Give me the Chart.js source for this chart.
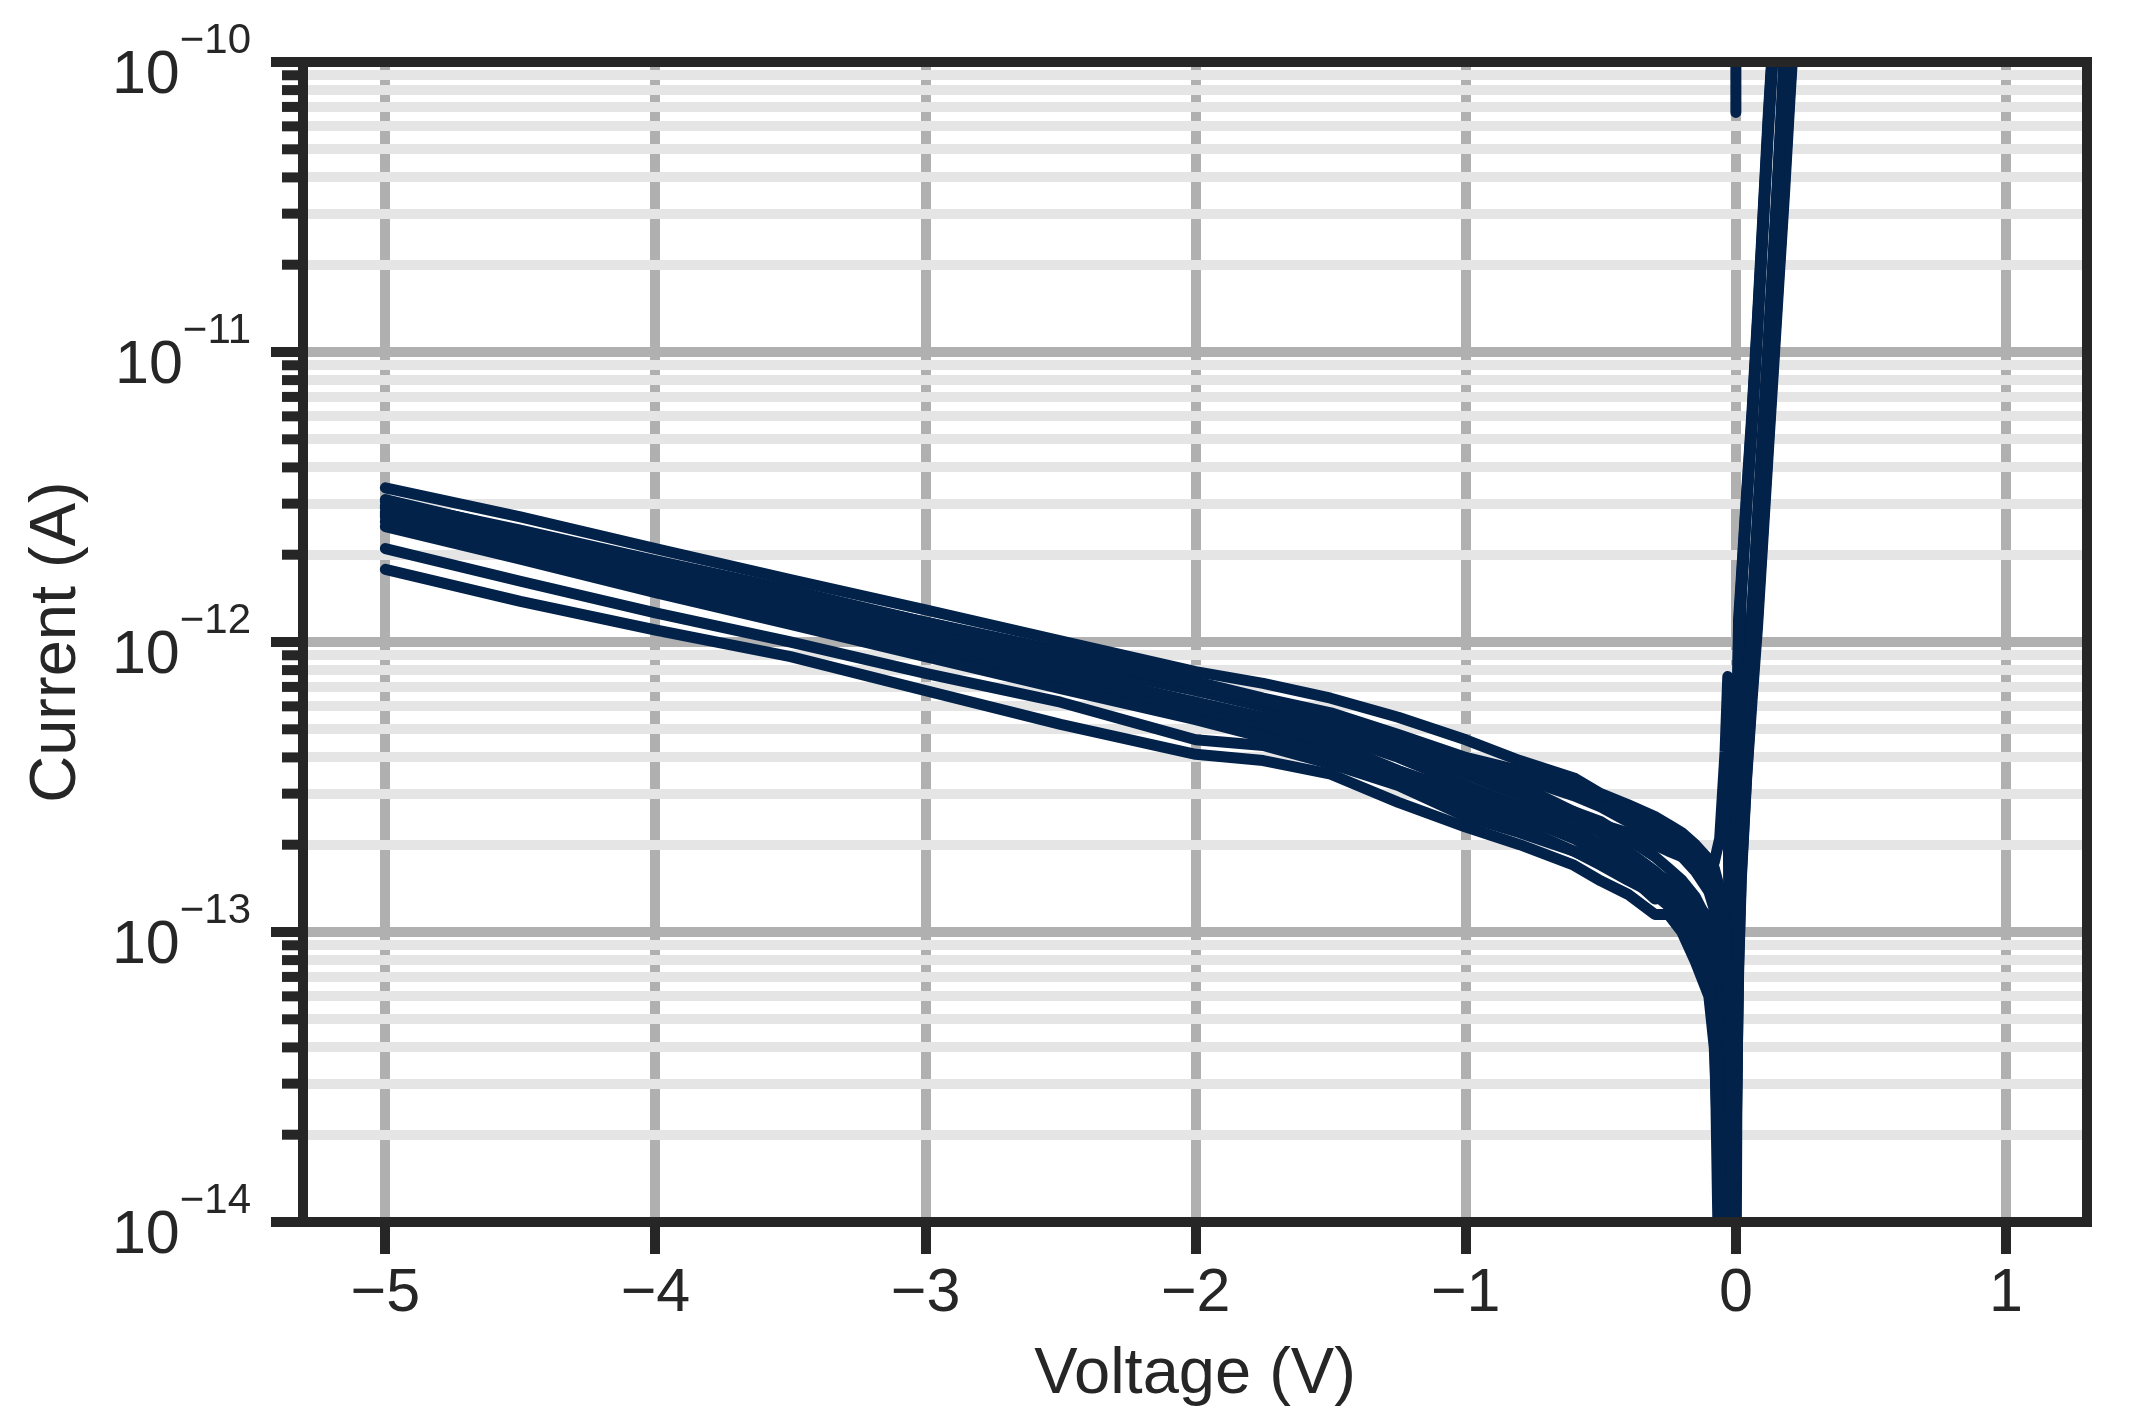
<!DOCTYPE html>
<html>
<head>
<meta charset="utf-8">
<title>Current vs voltage</title>
<script src="https://cdn.jsdelivr.net/npm/chart.js@4.4.1/dist/chart.umd.min.js"></script>
<style>
  html, body { margin: 0; padding: 0; background: #ffffff; }
  #wrap { width: 2131px; height: 1422px; }
</style>
</head>
<body>
<div id="wrap"><canvas id="ivChart" width="2131" height="1422"></canvas></div>
<script>
// sweep voltages (V), shared by all sweeps
const voltage = [
  -5, -4.5, -4, -3.5, -3, -2.5, -2, -1.75, -1.5, -1.25,
  -1, -0.8, -0.6, -0.5, -0.4, -0.3, -0.25, -0.2, -0.15, -0.1,
  -0.08, -0.06, -0.04, -0.03, -0.02, -0.01, 0, 0.01, 0.02, 0.04,
  0.06, 0.08, 0.1, 0.12, 0.14, 0.16, 0.18, 0.2, 0.22
];

// |current| (A) per sweep
const sweep1 = [
  3.4e-12, 2.7e-12, 2.1e-12, 1.64e-12, 1.29e-12, 1.01e-12, 7.9e-13, 7.2e-13, 6.4e-13, 5.5e-13,
  4.6e-13, 3.9e-13, 3.4e-13, 3.0e-13, 2.75e-13, 2.5e-13, 2.35e-13, 2.2e-13, 2.0e-13, 1.78e-13,
  1.66e-13, 1.41e-13, 1.0e-13, 6.3e-14, 3.2e-14, 4e-15, 4.0e-14, 1.26e-13, 2.5e-13, 6.3e-13,
  1.2e-12, 2.5e-12, 5.0e-12, 1.0e-11, 2.1e-11, 4.5e-11, 1.0e-10, 2.0e-10, null
];
const sweep2 = [
  3.1e-12, 2.4e-12, 1.9e-12, 1.48e-12, 1.17e-12, 9.1e-13, 7.1e-13, 6.3e-13, 5.5e-13, 4.7e-13,
  3.9e-13, 3.4e-13, 2.95e-13, 2.7e-13, 2.4e-13, 2.15e-13, 2.0e-13, 1.82e-13, 1.62e-13, 1.38e-13,
  1.2e-13, 1.0e-13, 7.1e-14, 5.0e-14, 2.5e-14, 4e-15, 2.5e-13, 1.12e-12, 1.58e-12, 3.2e-12,
  6.0e-12, 1.26e-11, 2.8e-11, 6.3e-11, 1.26e-10, null, null, null, null
];
const sweep3 = [
  2.95e-12, 2.3e-12, 1.82e-12, 1.45e-12, 1.12e-12, 8.9e-13, 7.1e-13, 6.2e-13, 5.4e-13, 4.5e-13,
  3.6e-13, 3.2e-13, 2.6e-13, 2.4e-13, 2.1e-13, 1.82e-13, 1.66e-13, 1.51e-13, 1.32e-13, 1.07e-13,
  9.3e-14, 7.6e-14, 5.0e-14, 2.8e-14, 4e-15, 8e-15, 2.0e-14, 8.9e-14, 1.78e-13, 4.0e-13,
  7.6e-13, 1.32e-12, 2.5e-12, 5.0e-12, 1.0e-11, 2.0e-11, 4.0e-11, 8.3e-11, 1.66e-10
];
const sweep4 = [
  2.8e-12, 2.2e-12, 1.74e-12, 1.38e-12, 1.1e-12, 8.5e-13, 6.8e-13, 6.0e-13, 5.1e-13, 4.3e-13,
  3.5e-13, 2.95e-13, 2.45e-13, 2.2e-13, 1.9e-13, 1.62e-13, 1.48e-13, 1.32e-13, 1.15e-13, 9.5e-14,
  8.3e-14, 6.6e-14, 4.5e-14, 3.2e-14, 1.6e-14, 4e-15, 2.0e-13, 1.0e-12, 1.5e-12, 3.0e-12,
  5.8e-12, 1.2e-11, 2.7e-11, 6.0e-11, 1.2e-10, null, null, null, null
];
const sweep5 = [
  2.7e-12, 2.1e-12, 1.66e-12, 1.29e-12, 1.02e-12, 7.9e-13, 6.2e-13, 5.5e-13, 4.8e-13, 4.0e-13,
  3.2e-13, 2.7e-13, 2.24e-13, 2.0e-13, 1.74e-13, 1.45e-13, 1.35e-13, 1.2e-13, 1.02e-13, 7.9e-14,
  6.6e-14, 5.0e-14, 2.5e-14, 4e-15, 1.0e-14, 1.78e-14, 4.5e-14, 1.32e-13, 2.6e-13, 6.6e-13,
  1.26e-12, 2.6e-12, 5.2e-12, 1.05e-11, 2.2e-11, 4.7e-11, 1.05e-10, 2.1e-10, null
];
const sweep6 = [
  2.6e-12, 2.0e-12, 1.58e-12, 1.23e-12, 9.8e-13, 7.6e-13, 5.9e-13, 5.2e-13, 4.5e-13, 3.6e-13,
  2.95e-13, 2.5e-13, 2.1e-13, 1.86e-13, 1.62e-13, 1.35e-13, 1.23e-13, 1.1e-13, 8.9e-14, 6.6e-14,
  5.0e-14, 2.8e-14, 4e-15, 8e-15, 1.12e-14, 1.41e-14, 1.78e-14, 7.1e-14, 1.51e-13, 3.4e-13,
  6.3e-13, 1.12e-12, 2.24e-12, 4.5e-12, 8.9e-12, 1.78e-11, 3.5e-11, 7.4e-11, 1.48e-10
];
const sweep7 = [
  2.1e-12, 1.62e-12, 1.26e-12, 1.0e-12, 7.8e-13, 6.2e-13, 4.6e-13, 4.4e-13, 3.8e-13, 3.2e-13,
  2.5e-13, 2.2e-13, 1.9e-13, 1.74e-13, 1.58e-13, 1.3e-13, 1.32e-13, 1.12e-13, 1.0e-13, 7.9e-14,
  6.3e-14, 3.5e-14, 1.26e-14, 4e-15, 6e-15, 1.0e-14, 1.6e-14, 7.9e-14, 1.58e-13, 3.5e-13,
  6.8e-13, 1.2e-12, 2.4e-12, 4.8e-12, 9.5e-12, 1.9e-11, 3.8e-11, 7.9e-11, 1.6e-10
];
const sweep8 = [
  1.78e-12, 1.38e-12, 1.1e-12, 8.9e-13, 6.8e-13, 5.2e-13, 4.1e-13, 3.9e-13, 3.5e-13, 2.8e-13,
  2.3e-13, 2.0e-13, 1.7e-13, 1.5e-13, 1.35e-13, 1.15e-13, 1.15e-13, 1.0e-13, 7.9e-14, 6.0e-14,
  4.0e-14, 1.26e-14, 4e-15, 1.0e-14, 1.6e-14, 2.5e-14, 5.0e-14, 1.3e-13, 2.5e-13, 6.3e-13,
  1.2e-12, 2.4e-12, 4.8e-12, 9.5e-12, 2.0e-11, 4.3e-11, 9.5e-11, 2.0e-10, null
];
const sweep9 = [
  2.9e-12, 2.25e-12, 1.78e-12, 1.41e-12, 1.12e-12, 8.7e-13, 6.9e-13, 6.0e-13, 5.2e-13, 4.4e-13,
  3.55e-13, 3.0e-13, 2.6e-13, 2.35e-13, 2.2e-13, 2.0e-13, 1.9e-13, 1.82e-13, 1.74e-13, 1.66e-13,
  1.74e-13, 2.1e-13, 4.2e-13, 7.6e-13, 4e-15, 3.2e-14, 2.5e-13, 1.2e-12, 1.66e-12, 3.3e-12,
  6.3e-12, 1.32e-11, 2.95e-11, 6.6e-11, 1.32e-10, null, null, null, null
];
const sweep10 = [
  2.5e-12, 1.93e-12, 1.48e-12, 1.15e-12, 8.9e-13, 6.9e-13, 5.4e-13, 4.7e-13, 4.1e-13, 3.4e-13,
  2.72e-13, 2.3e-13, 1.9e-13, 1.7e-13, 1.51e-13, 1.35e-13, 1.26e-13, 1.12e-13, 9.5e-14, 7.6e-14,
  6.0e-14, 4e-15, 1.1e-14, 1.4e-14, 2.0e-14, 3.2e-14, 6.3e-14, 1.58e-13, 3.0e-13, 7.1e-13,
  1.3e-12, 2.7e-12, 5.4e-12, 1.1e-11, 2.3e-11, 4.9e-11, 1.1e-10, null, null
];
const sweep11 = [
  3.05e-12, 2.43e-12, 1.91e-12, 1.51e-12, 1.17e-12, 9.3e-13, 7.3e-13, 6.4e-13, 5.7e-13, 4.8e-13,
  4.0e-13, 3.6e-13, 3.2e-13, 2.9e-13, 2.6e-13, 2.35e-13, 2.2e-13, 2.0e-13, 1.82e-13, 1.58e-13,
  1.45e-13, 1.2e-13, 8.9e-14, 6.3e-14, 3.5e-14, 1.26e-14, 4e-15, 6.3e-13, 1.41e-12, 2.9e-12,
  5.5e-12, 1.15e-11, 2.5e-11, 5.6e-11, 1.12e-10, null, null, null, null
];
const sweep12 = [
  2.75e-12, 2.1e-12, 1.62e-12, 1.25e-12, 9.5e-13, 7.3e-13, 5.6e-13, 5.0e-13, 4.4e-13, 3.6e-13,
  3.0e-13, 2.6e-13, 2.2e-13, 1.9e-13, 1.74e-13, 1.58e-13, 1.51e-13, 1.41e-13, 1.26e-13, 1.12e-13,
  1.0e-13, 8.3e-14, 6.3e-14, 5.0e-14, 3.2e-14, 4e-15, 2.5e-14, 1.0e-13, 2.0e-13, 4.5e-13,
  8.3e-13, 1.5e-12, 2.8e-12, 5.5e-12, 1.1e-11, 2.24e-11, 4.5e-11, 9.3e-11, 1.86e-10
];
const sweeps = [
  sweep1, sweep2, sweep3, sweep4, sweep5, sweep6,
  sweep7, sweep8, sweep9, sweep10, sweep11, sweep12
];

// short spike at 0 V at the top of the plot
const startVoltage = [0, 0];
const startCurrent = [2.0e-10, 6.7e-11];

const xTicks = [-5, -4, -3, -2, -1, 0, 1];
const yDecades = [1e-14, 1e-13, 1e-12, 1e-11, 1e-10];
const yExponents = [-14, -13, -12, -11, -10];
const yMinorSteps = [2, 3, 4, 5, 6, 7, 8, 9];

const INK = "#262626";
const LINE = "#03224a";
const FONT = "'Liberation Sans', Arial, Helvetica, sans-serif";

function isDecade(v) {
  const e = Math.log10(v);
  return Math.abs(e - Math.round(e)) < 1e-9;
}

function formatVolt(v) {
  return v < 0 ? "\u2212" + Math.abs(v) : String(v);
}

function lineStyle(label, points) {
  return {
    label,
    data: points,
    borderColor: LINE,
    borderWidth: 11,
    pointRadius: 0,
    borderCapStyle: "round",
    borderJoinStyle: "round",
    tension: 0,
    spanGaps: false,
    fill: false
  };
}

const datasets = sweeps.map((currents, i) =>
  lineStyle(`Sweep ${i + 1}`, voltage.map((v, j) => ({ x: v, y: currents[j] })))
);
datasets.push(lineStyle("Start", startVoltage.map((v, j) => ({ x: v, y: startCurrent[j] }))));

const spinePlugin = {
  id: "spines",
  afterDatasetsDraw(chart) {
    const { ctx, chartArea: a } = chart;
    ctx.save();
    ctx.strokeStyle = INK;
    ctx.lineWidth = 10;
    ctx.lineJoin = "miter";
    ctx.strokeRect(a.left, a.top, a.right - a.left, a.bottom - a.top);
    ctx.restore();
  }
};

// y ticks with minor marks and 10^n labels
const logAxisPlugin = {
  id: "logAxis",
  afterDraw(chart) {
    const { ctx, chartArea: a } = chart;
    const yScale = chart.scales.y;
    ctx.save();
    ctx.strokeStyle = INK;
    ctx.lineWidth = 10;
    yScale.ticks.forEach((t) => {
      const py = yScale.getPixelForValue(t.value);
      const len = isDecade(t.value) ? 32 : 21;
      ctx.beginPath();
      ctx.moveTo(a.left - len, py);
      ctx.lineTo(a.left, py);
      ctx.stroke();
    });

    ctx.fillStyle = INK;
    ctx.textBaseline = "alphabetic";
    ctx.textAlign = "left";
    yDecades.forEach((v, i) => {
      const py = yScale.getPixelForValue(v);
      const sup = "\u2212" + Math.abs(yExponents[i]);
      ctx.font = `61px ${FONT}`;
      const baseW = ctx.measureText("10").width;
      ctx.font = `42px ${FONT}`;
      const supW = ctx.measureText(sup).width;
      const x0 = a.left - 52 - baseW - supW;
      ctx.font = `61px ${FONT}`;
      ctx.fillText("10", x0, py + 31);
      ctx.font = `42px ${FONT}`;
      ctx.fillText(sup, x0 + baseW, py - 9);
    });
    ctx.restore();
  }
};

new Chart(document.getElementById("ivChart"), {
  type: "line",
  data: { datasets },
  options: {
    responsive: false,
    devicePixelRatio: 1,
    animation: false,
    layout: { padding: { top: 62, right: 44, bottom: 0, left: 0 } },
    plugins: {
      legend: { display: false },
      tooltip: { enabled: false }
    },
    scales: {
      x: {
        type: "linear",
        min: -5.305,
        max: 1.3,
        afterBuildTicks: (scale) => {
          scale.ticks = xTicks.map((v) => ({ value: v }));
        },
        afterFit: (scale) => {
          scale.height = 200;
        },
        border: { display: false },
        grid: {
          color: "#b0b0b0",
          lineWidth: 10,
          drawTicks: true,
          tickLength: 32,
          tickColor: INK,
          tickWidth: 10
        },
        ticks: {
          color: INK,
          font: { family: FONT, size: 61 },
          padding: 4,
          maxRotation: 0,
          autoSkip: false,
          callback: (v) => formatVolt(v)
        },
        title: {
          display: true,
          text: "Voltage (V)",
          color: INK,
          font: { family: FONT, size: 65 },
          padding: { top: 0, bottom: 8 }
        }
      },
      y: {
        type: "logarithmic",
        min: 1e-14,
        max: 1e-10,
        afterBuildTicks: (scale) => {
          const ticks = [];
          yDecades.forEach((d, i) => {
            ticks.push({ value: d, major: true });
            if (i < yDecades.length - 1) {
              yMinorSteps.forEach((m) => ticks.push({ value: m * d }));
            }
          });
          scale.ticks = ticks;
        },
        afterFit: (scale) => {
          scale.width = 303;
        },
        border: { display: false },
        grid: {
          z: -1,
          lineWidth: 10,
          drawTicks: false,
          color: (ctx) => (ctx.tick && isDecade(ctx.tick.value) ? "#b0b0b0" : "#e5e5e5")
        },
        ticks: { display: false },
        title: {
          display: true,
          text: "Current (A)",
          color: INK,
          font: { family: FONT, size: 65 },
          padding: { top: 18, bottom: 0 }
        }
      }
    }
  },
  plugins: [spinePlugin, logAxisPlugin]
});
</script>
</body>
</html>
